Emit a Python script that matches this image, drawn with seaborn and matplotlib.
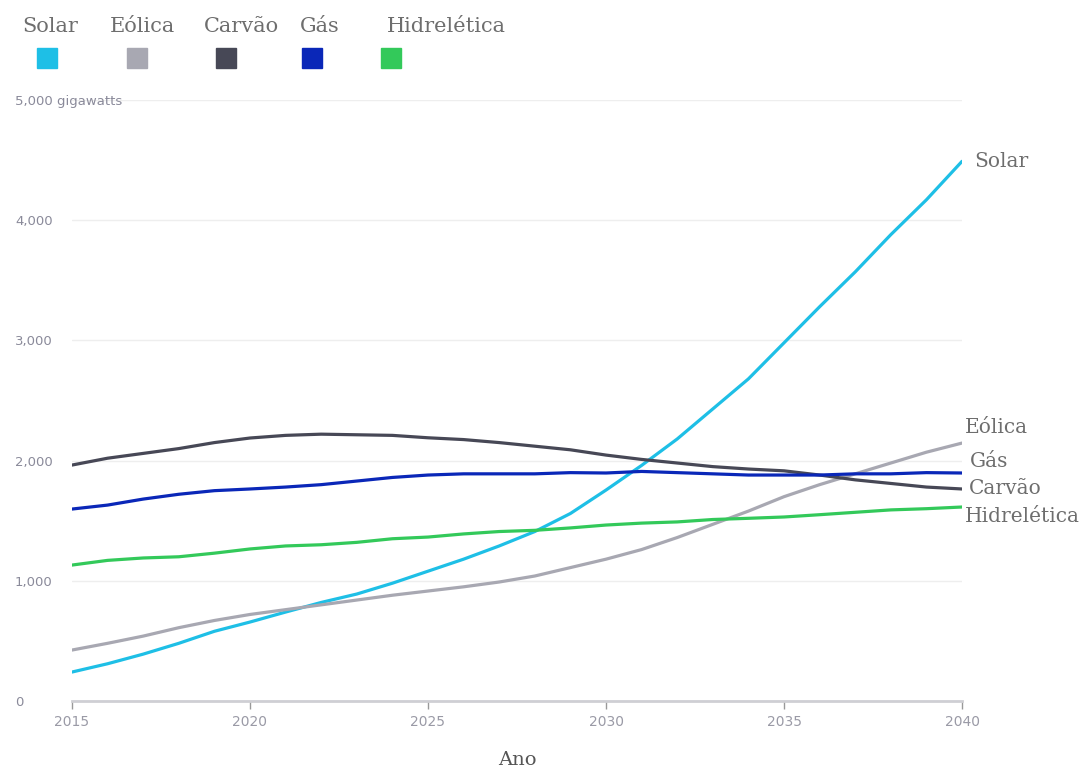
import pandas as pd
import seaborn as sns
import matplotlib.pyplot as plt
from matplotlib.patches import Rectangle

anos = list(range(2015, 2041))

solar = [241, 310, 390, 480, 580, 657, 740, 820, 890, 980,
         1080, 1180, 1290, 1410, 1560, 1755, 1960, 2180, 2430, 2680,
         2980, 3280, 3570, 3880, 4170, 4490]
eolica = [424, 480, 540, 610, 670, 720, 760, 800, 840, 880,
          915, 950, 990, 1040, 1110, 1180, 1260, 1360, 1470, 1580,
          1700, 1800, 1890, 1980, 2070, 2146]
carvao = [1963, 2020, 2060, 2100, 2150, 2188, 2210, 2220, 2215, 2210,
          2190, 2175, 2150, 2120, 2090, 2046, 2010, 1980, 1950, 1930,
          1915, 1880, 1840, 1810, 1780, 1764]
gas = [1597, 1630, 1680, 1720, 1750, 1764, 1780, 1800, 1830, 1860,
       1880, 1890, 1890, 1890, 1900, 1897, 1910, 1900, 1890, 1880,
       1880, 1880, 1890, 1890, 1900, 1897]
hidro = [1131, 1170, 1190, 1200, 1230, 1265, 1290, 1300, 1320, 1350,
         1364, 1390, 1410, 1420, 1440, 1464, 1480, 1490, 1510, 1520,
         1531, 1550, 1570, 1590, 1600, 1614]

fontes = ["Solar", "Eólica", "Carvão", "Gás", "Hidrelética"]
cores = ["#1ebfe6", "#a8a8b2", "#474856", "#0a27b8", "#33c95a"]
y_ticks = [0, 1000, 2000, 3000, 4000, 5000]
y_labels = ["0", "1,000", "2,000", "3,000", "4,000", "5,000 gigawatts"]

series = {"Solar": solar, "Eólica": eolica, "Carvão": carvao, "Gás": gas, "Hidrelética": hidro}
df = pd.concat([pd.DataFrame({"Ano": anos, "GW": v, "Fonte": k}) for k, v in series.items()])

sns.set_style("white")
fig = plt.figure(figsize=(10.89, 7.7), dpi=100)
ax = fig.add_axes([0.0661, 0.0896, 0.8173, 0.7805])

sns.lineplot(data=df, x="Ano", y="GW", hue="Fonte", hue_order=fontes,
             palette=cores, linewidth=2.3, legend=False, ax=ax, zorder=3)

ax.set_xlim(2015, 2040)
ax.set_ylim(0, 5000)
ax.set_yticks(y_ticks)
ax.set_yticklabels(y_labels)
ax.set_xticks(range(2015, 2041, 5))
for s in ["top", "right", "left"]:
    ax.spines[s].set_visible(False)
ax.spines["bottom"].set_color("#cfcfd4")
ax.spines["bottom"].set_linewidth(2)
ax.grid(axis="y", color="#eeeeee", linewidth=1)
ax.tick_params(axis="y", length=0, pad=41, labelsize=9.5, labelcolor="#8a8a9a")
for lab in ax.get_yticklabels():
    lab.set_horizontalalignment("left")
ax.tick_params(axis="x", bottom=True, direction="out", length=6, width=1, color="#999999",
               labelsize=10, labelcolor="#9a9aa6", pad=4)

ax.set_xlabel("Ano", fontsize=14, family="DejaVu Serif", color="#555555", labelpad=16)
ax.set_ylabel("")

# rótulos no fim das linhas
deslocamentos = [(9, 0), (2, 11.5), (5, 0), (6, 8.6), (2, -7)]
for nome, cor, (dx, dy) in zip(fontes, cores, deslocamentos):
    ax.annotate(nome, xy=(2040, series[nome][-1]), xytext=(dx, dy),
                textcoords="offset points", va="center", ha="left",
                fontsize=14.5, family="DejaVu Serif", color="#6e6e6e",
                annotation_clip=False)

# legenda no topo
leg_texto_x = [22, 110, 204, 300, 387]
leg_patch_x = [37, 127, 216, 302, 381]
W, H = 1089, 770
for nome, cor, tx, px in zip(fontes, cores, leg_texto_x, leg_patch_x):
    fig.text(tx / W, 1 - 27 / H, nome, fontsize=15, family="DejaVu Serif",
             color="#6e6e6e", va="center", ha="left")
    fig.patches.append(Rectangle((px / W, 1 - 68 / H), 20 / W, 20 / H,
                                 transform=fig.transFigure, color=cor))

fig.savefig("out.png", dpi=100)
